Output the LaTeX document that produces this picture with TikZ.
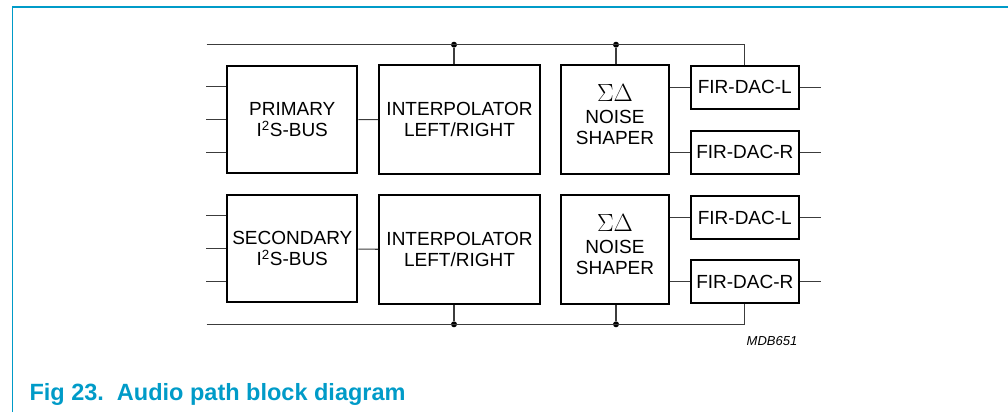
\documentclass[tikz,border=0pt]{standalone}
\usepackage{fontspec}
\setmainfont{Liberation Sans}
\usepackage{tikz}
\usetikzlibrary{arrows.meta}
\definecolor{nxpblue}{RGB}{0,155,200}
\definecolor{busgray}{RGB}{60,60,60}
\newcommand{\sigdel}{{\fontsize{23}{21.5}\selectfont$\Sigma\Delta$}}

\begin{document}
\begin{tikzpicture}[x=1pt,y=-1pt,
    block/.style={draw,line width=2pt,align=center,inner sep=0pt,
        font=\fontsize{19}{21.5}\selectfont},
    bus/.style={draw=busgray,line width=1.1pt},
    jdot/.style={circle,fill=black,inner sep=0pt,minimum size=6pt}]
\useasboundingbox (0,0) rectangle (1008,412);
% page frame
\draw[nxpblue,line width=1.5pt] (12.3,412) -- (12.3,7) -- (1008,7);

\begin{scope}[every node/.style={block}]
    \node[minimum width=130pt,minimum height=107pt] (prim) at (292.3,119.7) {PRIMARY\\I\textsuperscript{2}S-BUS};
    \node[minimum width=161pt,minimum height=109pt] (ipa) at (459.5,119.5) {INTERPOLATOR\\LEFT/RIGHT};
    \node[minimum width=108pt,minimum height=109pt] (nsa) at (615,119.5) {};
    \node[minimum width=108pt,minimum height=43pt] (fla) at (744.8,87.3) {FIR-DAC-L};
    \node[minimum width=108pt,minimum height=43pt] (fra) at (744.8,152.3) {FIR-DAC-R};

    \node[minimum width=130pt,minimum height=107pt] (sec) at (292.3,248.7) {SECONDARY\\I\textsuperscript{2}S-BUS};
    \node[minimum width=161pt,minimum height=109pt] (ipb) at (459.5,249.7) {INTERPOLATOR\\LEFT/RIGHT};
    \node[minimum width=108pt,minimum height=109pt] (nsb) at (615,249.7) {};
    \node[minimum width=108pt,minimum height=43pt] (flb) at (744.8,217.7) {FIR-DAC-L};
    \node[minimum width=108pt,minimum height=43pt] (frb) at (744.8,281.7) {FIR-DAC-R};
\end{scope}
\node[align=center,font=\fontsize{19}{21.5}\selectfont] (nsta) at (615,115) {\sigdel\\NOISE\\SHAPER};
\node[align=center,font=\fontsize{19}{21.5}\selectfont] (nstb) at (615,245) {\sigdel\\NOISE\\SHAPER};

% bus lines
\coordinate (ta) at (206.7,44.7);
\coordinate (tb) at (744.8,44.7);
\coordinate (ba) at (206.7,324.3);
\coordinate (bb) at (744.8,324.3);
\node[jdot] (ja) at (454,44.7) {};
\node[jdot] (jb) at (616,44.7) {};
\node[jdot] (jc) at (454,324.3) {};
\node[jdot] (jd) at (616,324.3) {};
\draw[bus] (ta) -- (tb) -- (fla.north);
\draw[bus] (ba) -- (bb) -- (frb.south);
\draw[bus] (ja) -- (ja |- ipa.north);
\draw[bus] (jb) -- (jb |- nsa.north);
\draw[bus] (jc) -- (jc |- ipb.south);
\draw[bus] (jd) -- (jd |- nsb.south);

% inputs and links
\foreach \n in {prim,sec} {
    \foreach \d in {-33,0,33}
        \draw[bus] ([yshift=\d pt]\n.west) -- ++(-20.6,0);
}
\path[bus] (prim) edge (ipa);
\path[bus] (sec) edge (ipb);
\draw[bus] (fla.west -| nsa.east) -- (fla.west);
\draw[bus] (fra.west -| nsa.east) -- (fra.west);
\draw[bus] (flb.west -| nsb.east) -- (flb.west);
\draw[bus] (frb.west -| nsb.east) -- (frb.west);
\foreach \n in {fla,fra,flb,frb}
    \draw[bus] (\n.east) -- ++(21,0);

\node[font=\fontsize{13}{15}\selectfont\itshape] (code) at (772,341) {MDB651};
\node[anchor=base west,inner sep=0pt,text=nxpblue,font=\fontsize{23.5}{26}\selectfont\bfseries] (title) at (29.3,400) {Fig 23.\ \ Audio path block diagram};
\end{tikzpicture}
\end{document}
